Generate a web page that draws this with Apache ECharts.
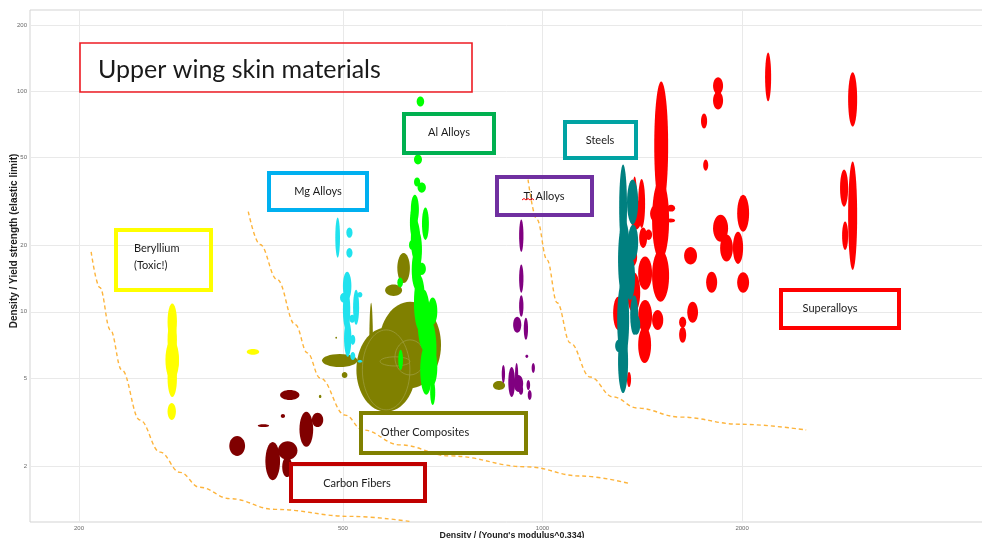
<!DOCTYPE html>
<html>
<head>
<meta charset="utf-8">
<title>Upper wing skin materials</title>
<script src="https://cdn.jsdelivr.net/npm/echarts@6.0.0/dist/echarts.min.js"></script>
<style>
  html, body { margin: 0; padding: 0; background: #ffffff; }
  #chart { width: 982px; height: 538px; }
</style>
</head>
<body>
<div id="chart"></div>
<script>
// Material property ranges: [density/E^0.334 min, max, density/yield min, max]
const berylliumRanges = [
  [272, 281, 7.46, 10.9],
  [272, 281, 6.05, 9.2],
  [270, 283, 4.91, 7.46],
  [272, 281, 4.11, 6.05],
  [274, 283, 5.34, 6.72],
  [272, 280, 3.23, 3.86],
  [358, 374, 6.38, 6.79]
];
const carbonRanges = [
  [337, 356, 2.22, 2.73],
  [402, 430, 3.98, 4.42],
  [403, 409, 3.30, 3.44],
  [372, 387, 3.00, 3.09],
  [382, 402, 1.72, 2.57],
  [399, 427, 2.13, 2.59],
  [405, 419, 1.78, 2.20],
  [430, 451, 2.44, 3.52],
  [449, 467, 3.00, 3.48]
];
const compositeRanges = [
  [567, 703, 4.51, 11.1],
  [524, 644, 3.52, 8.46],
  [604, 631, 13.5, 18.5],
  [579, 614, 11.8, 13.3],
  [465, 526, 5.62, 6.44],
  [548, 555, 4.42, 11.0],
  [498, 508, 5.01, 5.34],
  [487, 490, 7.55, 7.70],
  [842, 878, 4.42, 4.85],
  [460, 464, 4.06, 4.20]
];
const compositeOutlineRanges = [
  [535, 631, 3.59, 8.28],
  [569, 631, 5.68, 6.25],
  [599, 665, 5.17, 7.46]
];
const mgRanges = [
  [487, 495, 17.6, 26.8],
  [506, 517, 21.7, 24.1],
  [506, 517, 17.6, 19.5],
  [500, 515, 11.3, 15.2],
  [500, 513, 8.28, 12.6],
  [502, 515, 6.25, 9.2],
  [495, 508, 11.0, 12.2],
  [518, 529, 8.73, 12.6],
  [526, 535, 11.6, 12.3],
  [511, 522, 8.91, 9.69],
  [513, 522, 7.08, 7.86],
  [513, 522, 6.05, 6.58],
  [526, 535, 5.87, 6.05]
];
const alRanges = [
  [646, 663, 85.5, 94.9],
  [640, 658, 46.6, 51.7],
  [640, 654, 37.0, 40.7],
  [648, 667, 34.7, 38.6],
  [633, 651, 24.9, 34.0],
  [658, 674, 21.2, 29.7],
  [633, 654, 17.2, 26.2],
  [631, 648, 21.2, 30.6],
  [637, 658, 15.5, 23.6],
  [629, 642, 19.1, 21.2],
  [635, 656, 12.6, 19.1],
  [648, 667, 14.7, 16.7],
  [604, 616, 12.9, 14.3],
  [640, 665, 8.28, 14.7],
  [648, 677, 6.72, 12.6],
  [672, 694, 8.73, 11.6],
  [660, 692, 4.91, 9.2],
  [654, 682, 4.20, 7.08],
  [672, 694, 4.66, 6.72],
  [677, 689, 3.78, 4.91],
  [606, 616, 5.45, 6.72]
];
const tiRanges = [
  [922, 936, 18.7, 26.2],
  [922, 936, 12.2, 16.4],
  [922, 936, 9.49, 11.9],
  [903, 929, 8.03, 9.49],
  [937, 951, 7.46, 9.39],
  [942, 952, 6.18, 6.38],
  [963, 974, 5.28, 5.86],
  [868, 878, 4.76, 5.74],
  [888, 909, 4.11, 5.62],
  [909, 919, 4.56, 5.86],
  [921, 935, 4.20, 4.66],
  [946, 958, 4.42, 4.91],
  [950, 963, 3.98, 4.42],
  [905, 935, 4.33, 5.17]
];
const superalloyRanges = [
  [1474, 1547, 29.1, 111],
  [1463, 1552, 17.2, 39.8],
  [1463, 1552, 11.1, 19.1],
  [1453, 1521, 25.4, 30.6],
  [1541, 1585, 28.5, 30.6],
  [1536, 1585, 25.4, 26.5],
  [1808, 1872, 96.9, 116],
  [1808, 1872, 82.8, 100],
  [1734, 1771, 67.9, 79.4],
  [1747, 1778, 43.7, 49.1],
  [2166, 2212, 90.1, 150],
  [2890, 2982, 69.3, 122],
  [2810, 2890, 30.0, 44.2],
  [2890, 2982, 15.5, 48.1],
  [2830, 2890, 19.1, 25.7],
  [1966, 2049, 23.1, 34.0],
  [1808, 1905, 20.8, 27.6],
  [1853, 1937, 16.9, 22.4],
  [1937, 2007, 16.5, 23.1],
  [1635, 1710, 16.4, 19.7],
  [1765, 1834, 12.2, 15.2],
  [1966, 2049, 12.2, 15.1],
  [1653, 1716, 8.91, 11.1],
  [1607, 1647, 8.46, 9.49],
  [1607, 1647, 7.23, 8.55],
  [1365, 1389, 23.6, 41.1],
  [1356, 1413, 23.6, 32.3],
  [1399, 1438, 19.5, 24.1],
  [1428, 1463, 21.2, 23.6],
  [1341, 1389, 16.0, 19.7],
  [1394, 1463, 12.6, 17.8],
  [1278, 1323, 8.28, 11.7],
  [1341, 1404, 9.9, 15.1],
  [1394, 1463, 8.03, 11.3],
  [1394, 1458, 5.86, 8.55],
  [1463, 1521, 8.28, 10.2],
  [1341, 1360, 4.56, 5.34],
  [1394, 1428, 24.0, 40.0]
];
const steelRanges = [
  [1305, 1341, 19.1, 46.6],
  [1341, 1394, 24.9, 39.8],
  [1300, 1356, 11.3, 26.2],
  [1346, 1394, 17.2, 24.9],
  [1332, 1379, 11.3, 18.2],
  [1296, 1351, 6.05, 14.0],
  [1356, 1394, 7.86, 11.9],
  [1365, 1404, 7.86, 9.69],
  [1300, 1346, 4.28, 8.28],
  [1287, 1318, 6.58, 7.46]
];

// Hand-drawn guide curves (dashed), as [x, y] pairs
const guideCurveA = [[208.6, 18.7], [215, 12.9], [223, 8.28], [232, 5.45], [247, 3.23], [265, 2.31],
  [284, 1.87], [304, 1.60], [338, 1.42], [395, 1.27], [514, 1.18], [631, 1.12]];
const guideCurveB = [[360, 28.5], [375, 20.2], [398, 14.0], [424, 8.73], [442, 6.51], [462, 5.01],
  [504, 3.40], [536, 2.91], [610, 2.49], [725, 2.22], [948, 1.98], [1139, 1.80], [1346, 1.67]];
const guideCurveC = [[951, 39.8], [981, 26.2], [1016, 17.2], [1052, 11.0], [1101, 7.23], [1180, 5.06],
  [1278, 4.11], [1389, 3.66], [1613, 3.33], [1986, 3.09], [2498, 2.91]];

// Axis extents and tick labels
const xExtent = [168.7, 5000];
const yExtent = [1.113, 234];
const xTickValues = [200, 500, 1000, 2000, 5000];
const yTickValues = [2, 5, 10, 20, 50, 100, 200];

const lg = Math.log10;
const toLog = rows => rows.map(r => r.map(lg));

function ellipseShape(api) {
  const a = api.coord([api.value(0), api.value(3)]);
  const b = api.coord([api.value(1), api.value(2)]);
  return {
    cx: (a[0] + b[0]) / 2, cy: (a[1] + b[1]) / 2,
    rx: Math.abs(b[0] - a[0]) / 2, ry: Math.abs(b[1] - a[1]) / 2
  };
}
function ellipseItem(params, api) {
  return { type: 'ellipse', shape: ellipseShape(api), style: { fill: api.visual('color') } };
}
function outlineItem(params, api) {
  return { type: 'ellipse', shape: ellipseShape(api),
    style: { fill: 'none', stroke: '#9c9c3c', lineWidth: 0.8 } };
}
function ellipseSeries(name, ranges, color, render) {
  return {
    type: 'custom', name: name, coordinateSystem: 'cartesian2d',
    renderItem: render || ellipseItem,
    itemStyle: { color: color },
    encode: { x: [0, 1], y: [2, 3] },
    data: toLog(ranges),
    silent: true
  };
}
function guideSeries(points) {
  return {
    type: 'line', data: points.map(p => [lg(p[0]), lg(p[1])]),
    smooth: 0.4, smoothMonotone: 'x', showSymbol: false, silent: true,
    lineStyle: { color: '#fdb43c', width: 1.4, type: [4, 3] }, z: 3
  };
}

const tickFont = { fontFamily: 'Liberation Sans', fontSize: 6, color: '#6a6a6a' };
const boxFont = 'Lato, "Noto Sans", sans-serif';

function box(x, y, w, h, color, lw) {
  return { type: 'rect', shape: { x: x, y: y, width: w, height: h }, z: 100,
    style: { fill: 'none', stroke: color, lineWidth: lw } };
}
function label(text, x, y, size, align) {
  return { type: 'text', x: x, y: y, z: 101,
    style: { text: text, fill: '#1a1a1a', fontSize: size, fontFamily: boxFont, lineHeight: 17,
      textAlign: align || 'center', textVerticalAlign: 'middle', verticalAlign: 'middle' } };
}

const chart = echarts.init(document.getElementById('chart'), null, { renderer: 'canvas' });
chart.setOption({
  animation: false,
  backgroundColor: '#ffffff',
  grid: { left: 30, top: 10, right: -24, bottom: 16, outerBoundsMode: 'none', containLabel: false,
    show: true, borderColor: '#d3d3d3', borderWidth: 1 },
  xAxis: {
    type: 'value', min: lg(xExtent[0]), max: lg(xExtent[1]),
    name: "Density / (Young's modulus^0.334)", nameLocation: 'middle', nameGap: 9,
    nameMoveOverlap: false,
    nameTextStyle: { fontFamily: 'Liberation Sans', fontSize: 8.8, fontWeight: 'bold', color: '#222',
      padding: [0, 12, 0, 0] },
    axisLine: { show: false },
    axisTick: { show: false, customValues: xTickValues.map(lg) },
    axisLabel: Object.assign({ customValues: xTickValues.map(lg), margin: 3,
      formatter: v => String(Math.round(Math.pow(10, v))) }, tickFont),
    splitLine: { show: true, lineStyle: { color: '#e9e9e9', width: 1 } }
  },
  yAxis: {
    type: 'value', min: lg(yExtent[0]), max: lg(yExtent[1]),
    name: 'Density / Yield strength (elastic limit)', nameLocation: 'middle', nameGap: 11,
    nameMoveOverlap: false,
    nameTextStyle: { fontFamily: 'Liberation Sans', fontSize: 10, fontWeight: 'bold', color: '#222',
      padding: [0, 0, 0, 50] },
    axisLine: { show: false },
    axisTick: { show: false, customValues: yTickValues.map(lg) },
    axisLabel: Object.assign({ customValues: yTickValues.map(lg), margin: 3,
      formatter: v => String(Math.round(Math.pow(10, v))) }, tickFont),
    splitLine: { show: true, lineStyle: { color: '#e9e9e9', width: 1 } }
  },
  series: [
    guideSeries(guideCurveA),
    guideSeries(guideCurveB),
    guideSeries(guideCurveC),
    ellipseSeries('Other Composites', compositeRanges, '#808000'),
    ellipseSeries('Other Composites outline', compositeOutlineRanges, '#9c9c3c', outlineItem),
    ellipseSeries('Carbon Fibers', carbonRanges, '#800000'),
    ellipseSeries('Beryllium', berylliumRanges, '#ffff00'),
    ellipseSeries('Mg Alloys', mgRanges, '#20e2ee'),
    ellipseSeries('Al Alloys', alRanges, '#00ff00'),
    ellipseSeries('Ti Alloys', tiRanges, '#800080'),
    ellipseSeries('Superalloys', superalloyRanges, '#ff0000'),
    ellipseSeries('Steels', steelRanges, '#008080')
  ],
  graphic: [
    box(80, 43, 392, 49, '#ee1c24', 1.6),
    label('Upper wing skin materials', 98, 70, 25, 'left'),
    box(116, 230, 95, 60, '#ffff00', 4),
    label('Beryllium\n(Toxic!)', 134, 256.5, 11, 'left'),
    box(269, 173, 98, 37, '#00b0f0', 4),
    label('Mg Alloys', 318, 191, 11),
    box(404, 114, 90, 39, '#00b050', 4),
    label('Al Alloys', 449, 132, 11),
    box(565, 122, 71, 36, '#00a3a3', 4),
    label('Steels', 600, 140, 11),
    box(497, 177, 95, 38, '#7030a0', 4),
    label('Ti Alloys', 544, 196, 11),
    { type: 'polyline', z: 102, shape: { points: [[522, 200], [524, 198.5], [526, 200], [528, 198.5], [530, 200], [532, 198.5], [534, 200]] },
      style: { stroke: '#ff0000', lineWidth: 1, fill: 'none' } },
    box(781, 290, 118, 38, '#ff0000', 4),
    label('Superalloys', 830, 308, 11),
    box(361, 413, 165, 40, '#808000', 4),
    label('Other Composites', 425, 432, 11),
    box(291, 464, 134, 37, '#c00000', 4),
    label('Carbon Fibers', 357, 483, 11)
  ]
});
</script>
</body>
</html>
